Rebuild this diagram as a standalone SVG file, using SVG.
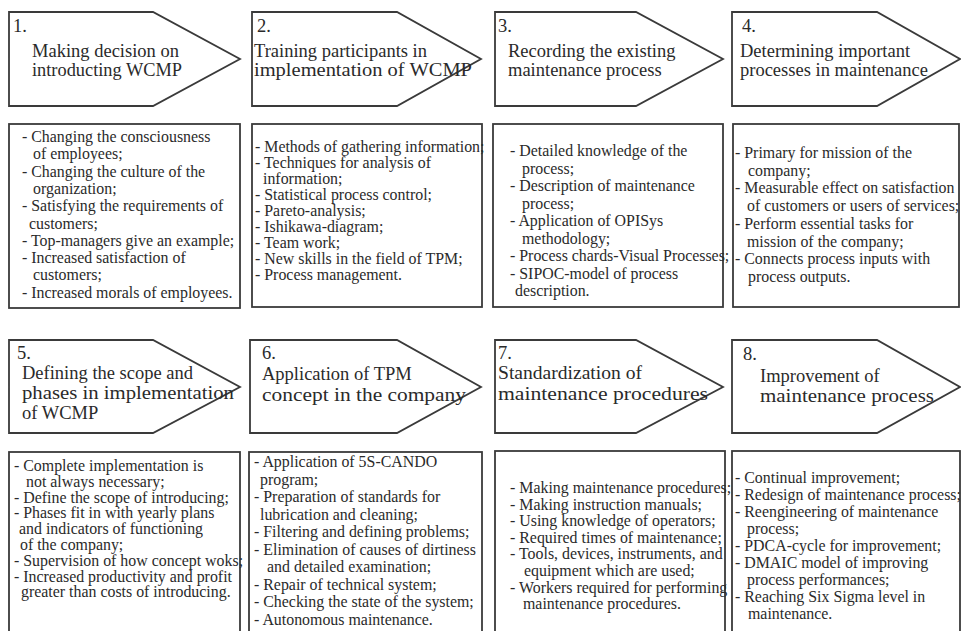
<svg xmlns="http://www.w3.org/2000/svg" width="961" height="631" viewBox="0 0 961 631">
<style>
.shape{fill:#fff;stroke:#3a3a3a;stroke-width:1.8}
.h{font-family:"Liberation Serif","Times New Roman",serif;font-size:18.5px;fill:#2a2a2a}
.t{font-family:"Liberation Serif","Times New Roman",serif;font-size:15.9px;fill:#2a2a2a}
</style>
<rect width="961" height="631" fill="#fff"/>
<g id="connectors"></g>

<g id="step1">
<polygon class="shape" points="9,12 153,12 240,59 153,106 9,106"/>
<text class="h"><tspan x="13" y="32">1.</tspan><tspan x="32" y="57">Making decision on</tspan></text>
<text class="h" x="32" y="76" textLength="150" lengthAdjust="spacingAndGlyphs">introducting WCMP</text>
</g>
<g id="step2">
<polygon class="shape" points="252,12 397,12 481,59 397,106 252,106"/>
<text class="h"><tspan x="257" y="32">2.</tspan><tspan x="254" y="57">Training participants in</tspan></text>
<text class="h" x="254" y="76" textLength="218" lengthAdjust="spacingAndGlyphs">implementation of WCMP</text>
</g>
<g id="step3">
<polygon class="shape" points="495,12 636,12 723,59 636,106 495,106"/>
<text class="h"><tspan x="498" y="32">3.</tspan><tspan x="508" y="57">Recording the existing</tspan><tspan x="508" y="76">maintenance process</tspan></text>
</g>
<g id="step4">
<polygon class="shape" points="732,12 877,12 960,59 877,106 732,106"/>
<text class="h"><tspan x="742" y="32">4.</tspan><tspan x="740" y="57">Determining important</tspan><tspan x="740" y="76">processes in maintenance</tspan></text>
</g>

<g id="list1">
<rect class="shape" x="9" y="124" width="231" height="184"/>
<text class="t">
<tspan x="22" y="142">- Changing the consciousness</tspan>
<tspan x="33" y="159.3">of employees;</tspan>
<tspan x="22" y="176.6">- Changing the culture of the</tspan>
<tspan x="33" y="193.9">organization;</tspan>
<tspan x="22" y="211.2">- Satisfying the requirements of</tspan>
<tspan x="29" y="228.5">customers;</tspan>
<tspan x="22" y="245.8">- Top-managers give an example;</tspan>
<tspan x="22" y="263.1">- Increased satisfaction of</tspan>
<tspan x="33" y="280.4">customers;</tspan>
<tspan x="22" y="297.7">- Increased morals of employees.</tspan>
</text>
</g>
<g id="list2">
<rect class="shape" x="252" y="124" width="230" height="183"/>
<text class="t">
<tspan x="255" y="152">- Methods of gathering information;</tspan>
<tspan x="255" y="168">- Techniques for analysis of</tspan>
<tspan x="263" y="184">information;</tspan>
<tspan x="255" y="200">- Statistical process control;</tspan>
<tspan x="255" y="216">- Pareto-analysis;</tspan>
<tspan x="255" y="232">- Ishikawa-diagram;</tspan>
<tspan x="255" y="248">- Team work;</tspan>
<tspan x="255" y="264">- New skills in the field of TPM;</tspan>
<tspan x="255" y="280">- Process management.</tspan>
</text>
</g>
<g id="list3">
<rect class="shape" x="493" y="124" width="230" height="183"/>
<text class="t">
<tspan x="510" y="156">- Detailed knowledge of the</tspan>
<tspan x="522" y="173.5">process;</tspan>
<tspan x="510" y="191">- Description of maintenance</tspan>
<tspan x="522" y="208.5">process;</tspan>
<tspan x="510" y="226">- Application of OPISys</tspan>
<tspan x="522" y="243.5">methodology;</tspan>
<tspan x="510" y="261">- Process chards-Visual Processes;</tspan>
<tspan x="510" y="278.5">- SIPOC-model of process</tspan>
<tspan x="515" y="296">description.</tspan>
</text>
</g>
<g id="list4">
<rect class="shape" x="733" y="124" width="226" height="183"/>
<text class="t">
<tspan x="735" y="158">- Primary for mission of the</tspan>
<tspan x="748" y="175.7">company;</tspan>
<tspan x="735" y="193.4">- Measurable effect on satisfaction</tspan>
<tspan x="747" y="211.1">of customers or users of services;</tspan>
<tspan x="735" y="228.8">- Perform essential tasks for</tspan>
<tspan x="747" y="246.5">mission of the company;</tspan>
<tspan x="735" y="264.2">- Connects process inputs with</tspan>
<tspan x="748" y="281.9">process outputs.</tspan>
</text>
</g>

<g id="step5">
<polygon class="shape" points="9,340 153,340 240,387 153,433 9,433"/>
<text class="h"><tspan x="17" y="359">5.</tspan><tspan x="22" y="379">Defining the scope and</tspan></text>
<text class="h" x="22" y="399" textLength="212" lengthAdjust="spacingAndGlyphs">phases in implementation</text>
<text class="h" x="22" y="419">of WCMP</text>
</g>
<g id="step6">
<polygon class="shape" points="250,340 397,340 481,387 397,433 250,433"/>
<text class="h"><tspan x="262" y="359">6.</tspan><tspan x="262" y="380">Application of TPM</tspan></text>
<text class="h" x="262" y="401" textLength="204" lengthAdjust="spacingAndGlyphs">concept in the company</text>
</g>
<g id="step7">
<polygon class="shape" points="495,340 636,340 723,387 636,433 495,433"/>
<text class="h" x="498" y="359">7.</text>
<text class="h" x="498" y="379" textLength="144" lengthAdjust="spacingAndGlyphs">Standardization of</text>
<text class="h" x="498" y="400" textLength="210" lengthAdjust="spacingAndGlyphs">maintenance procedures</text>
</g>
<g id="step8">
<polygon class="shape" points="732,340 877,340 960,387 877,433 732,433"/>
<text class="h"><tspan x="743" y="360">8.</tspan><tspan x="760" y="382">Improvement of</tspan></text>
<text class="h" x="760" y="402" textLength="174" lengthAdjust="spacingAndGlyphs">maintenance process</text>
</g>

<g id="list5">
<rect class="shape" x="9" y="452" width="231" height="190"/>
<text class="t">
<tspan x="14" y="471">- Complete implementation is</tspan>
<tspan x="26" y="486.8">not always necessary;</tspan>
<tspan x="14" y="502.6">- Define the scope of introducing;</tspan>
<tspan x="14" y="518.4">- Phases fit in with yearly plans</tspan>
<tspan x="19" y="534.2">and indicators of functioning</tspan>
<tspan x="20" y="550">of the company;</tspan>
<tspan x="14" y="565.8">- Supervision of how concept woks;</tspan>
<tspan x="14" y="581.6">- Increased productivity and profit</tspan>
<tspan x="21" y="597.4">greater than costs of introducing.</tspan>
</text>
</g>
<g id="list6">
<rect class="shape" x="249" y="452" width="233" height="190"/>
<text class="t">
<tspan x="254" y="467">- Application of 5S-CANDO</tspan>
<tspan x="260" y="484.5">program;</tspan>
<tspan x="254" y="502">- Preparation of standards for</tspan>
<tspan x="260" y="519.5">lubrication and cleaning;</tspan>
<tspan x="254" y="537">- Filtering and defining problems;</tspan>
<tspan x="254" y="554.5">- Elimination of causes of dirtiness</tspan>
<tspan x="267" y="572">and detailed examination;</tspan>
<tspan x="254" y="589.5">- Repair of technical system;</tspan>
<tspan x="254" y="607">- Checking the state of the system;</tspan>
<tspan x="254" y="624.5">- Autonomous maintenance.</tspan>
</text>
</g>
<g id="list7">
<rect class="shape" x="495" y="451" width="230" height="190"/>
<text class="t">
<tspan x="510" y="493">- Making maintenance procedures;</tspan>
<tspan x="510" y="509.6">- Making instruction manuals;</tspan>
<tspan x="510" y="526.2">- Using knowledge of operators;</tspan>
<tspan x="510" y="542.8">- Required times of maintenance;</tspan>
<tspan x="510" y="559.4">- Tools, devices, instruments, and</tspan>
<tspan x="524" y="576">equipment which are used;</tspan>
<tspan x="510" y="592.6">- Workers required for performing</tspan>
<tspan x="523" y="609.2">maintenance procedures.</tspan>
</text>
</g>
<g id="list8">
<rect class="shape" x="732" y="451" width="228" height="190"/>
<text class="t">
<tspan x="735" y="483">- Continual improvement;</tspan>
<tspan x="735" y="500">- Redesign of maintenance process;</tspan>
<tspan x="735" y="517">- Reengineering of maintenance</tspan>
<tspan x="747" y="534">process;</tspan>
<tspan x="735" y="551">- PDCA-cycle for improvement;</tspan>
<tspan x="735" y="568">- DMAIC model of improving</tspan>
<tspan x="747" y="585">process performances;</tspan>
<tspan x="735" y="602">- Reaching Six Sigma level in</tspan>
<tspan x="748" y="619">maintenance.</tspan>
</text>
</g>
</svg>
